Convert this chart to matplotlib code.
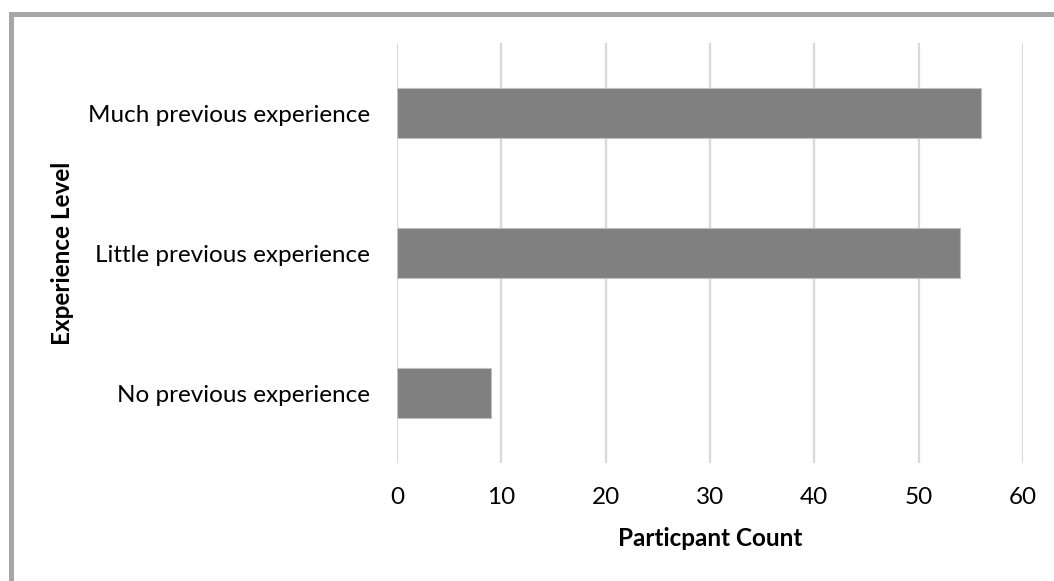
import matplotlib
matplotlib.use("Agg")
import matplotlib.pyplot as plt
from matplotlib.lines import Line2D

categories = ["No previous experience", "Little previous experience", "Much previous experience"]
counts = [9, 54, 56]
xticks = [0, 10, 20, 30, 40, 50, 60]

plt.rcParams['font.family'] = ['Lato', 'DejaVu Sans']

W, H = 1054, 581
fig = plt.figure(figsize=(W / 100, H / 100), dpi=100)
ax = fig.add_axes([397 / W, 1 - 463 / H, (1023 - 397) / W, (463 - 43) / H])

ax.barh(range(len(categories)), counts, height=0.36, color='#808080',
        edgecolor='#bfbfbf', linewidth=0.8, zorder=3)
ax.set_xlim(0, 60)
ax.set_ylim(-0.5, len(categories) - 0.5)
ax.set_xticks(xticks)
ax.set_xticklabels([str(t) for t in xticks])
ax.set_yticks(range(len(categories)))
ax.set_yticklabels(categories)
ax.tick_params(axis='both', length=0, labelsize=17.5, colors='#000000')
ax.tick_params(axis='x', pad=17)
ax.tick_params(axis='y', pad=19.5)
ax.grid(axis='x', color='#d9d9d9', linewidth=1.6, zorder=0)
for s in ax.spines.values():
    s.set_visible(False)

fig.text(710 / W, 1 - 539 / H, "Particpant Count", fontsize=17.5, fontweight='bold',
         ha='center', va='center')
fig.text(62 / W, 1 - 253 / H, "Experience Level", rotation=90, fontsize=17.5,
         fontweight='bold', ha='center', va='center')

# outer border (left and top visible)
fig.add_artist(Line2D([10.8 / W, 10.8 / W], [0, 1 - 14.2 / H], transform=fig.transFigure,
                      color='#a6a6a6', linewidth=3.6, solid_capstyle='projecting'))
fig.add_artist(Line2D([10.8 / W, 1], [1 - 14.2 / H, 1 - 14.2 / H], transform=fig.transFigure,
                      color='#a6a6a6', linewidth=3.6, solid_capstyle='projecting'))

fig.savefig("out.png", dpi=100, facecolor='white')
